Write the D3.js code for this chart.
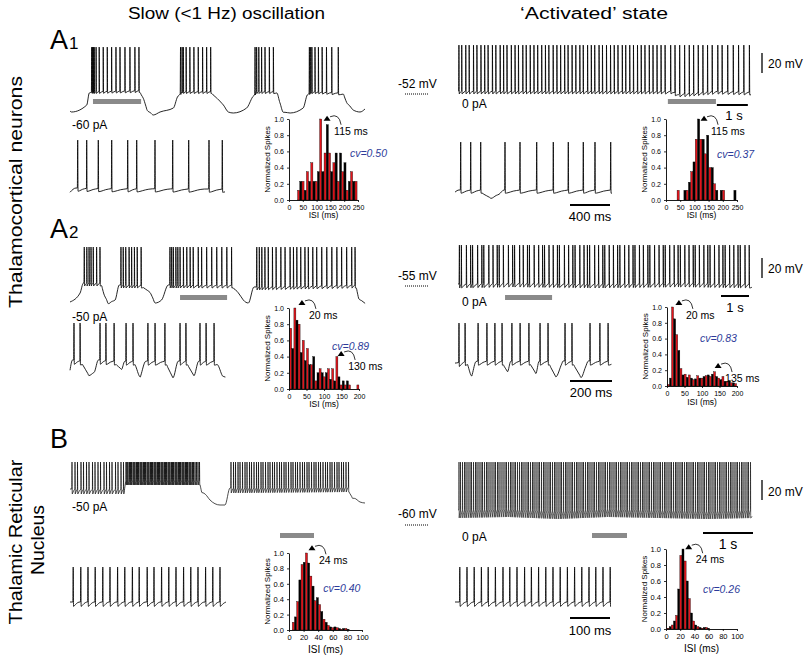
<!DOCTYPE html>
<html><head><meta charset="utf-8">
<script src="https://cdn.jsdelivr.net/npm/d3@7"></script>
<style>
body{margin:0;background:#fff}
svg{display:block}
text{font-family:"Liberation Sans",Arial,Helvetica,sans-serif;fill:#000}
</style></head>
<body><svg id="c" width="805" height="657"></svg>
<script>
// ================= DATA =================
const titles = ["Slow (<1 Hz) oscillation", "\u2018Activated\u2019 state"];
const panelLetters = ["A", "A", "B"];
const panelSubs = ["1", "2", ""];
const sideLabelTC = "Thalamocortical neurons";
const sideLabelTRN = ["Thalamic Reticular", "Nucleus"];
const restLabels = ["-52 mV", "-55 mV", "-60 mV"];
const slowCurrent = ["-60 pA", "-50 pA", "-50 pA"];
const actCurrent = ["0 pA", "0 pA", "0 pA"];
const zoomBarLabels = ["400 ms", "200 ms", "100 ms"];
const zoomBarSec = [0.4, 0.2, 0.1];
const cvSlow = ["cv=0.50", "cv=0.89", "cv=0.40"];
const cvAct = ["cv=0.37", "cv=0.83", "cv=0.26"];
const normTicks = [0, 0.2, 0.4, 0.6, 0.8, 1.0];
const isiTicksA1 = [0, 50, 100, 150, 200, 250];
const isiTicksA2 = [0, 50, 100, 150, 200];
const isiTicksB = [0, 20, 40, 60, 80, 100];

// --- spike times (s) and slow membrane potential breakpoints [s, mV] ---
const a1SlowSpikes = [0.70,0.73,0.75,0.78,0.84,0.94,1.07,1.20,1.34,1.48,1.61,1.77,1.93,2.09,2.22,
  3.56,3.61,3.65,3.74,3.86,3.99,4.13,4.27,4.40,4.53,
  5.96,6.01,6.08,6.17,6.28,6.42,6.55,
  7.71,7.75,7.79,7.89,8.00,8.12,8.26,8.43,8.64];
const a1SlowBase = [[0,-69],[0.05,-70],[0.54,-63],[0.62,-51],[0.75,-49.5],[2.25,-48.5],[2.36,-55],[2.49,-68],[2.68,-73],[2.90,-70],[3.33,-66],[3.46,-55],[3.60,-49.5],[4.56,-49.5],[4.72,-55],[4.94,-63],[5.10,-70],[5.26,-71],[5.69,-66],[5.88,-55],[6.01,-49.5],[6.66,-49.5],[6.76,-60],[6.87,-70],[7.09,-71],[7.51,-66],[7.64,-53],[7.78,-49.5],[8.80,-51],[8.91,-60],[9.12,-68],[9.34,-70],[9.50,-67]];
const a1ActSpikes = [0.03,0.12,0.25,0.36,0.50,0.61,0.74,0.86,0.97,1.11,1.22,1.36,1.47,1.58,1.72,1.84,1.95,2.09,2.20,2.33,2.45,2.57,2.70,2.82,2.93,3.07,3.19,3.31,3.44,3.55,3.68,3.80,3.93,4.04,4.18,4.30,4.41,4.55,4.66,4.79,4.92,5.04,5.16,5.30,5.41,5.54,5.66,5.79,5.91,6.03,6.17,6.29,6.42,6.55,6.68,6.86,7.00,7.15,7.31,7.46,7.60,7.75,7.90,8.05,8.20,8.38,8.52,8.70,8.88,9.05,9.22,9.40];
const a1ActBase = [[0,-49],[6.9,-49],[7.1,-52],[7.6,-51],[8.3,-49],[9.45,-50]];
const a1SlowZoomSpikes = [0.077,0.167,0.283,0.417,0.577,0.667,0.850,1.027,1.187,1.390,1.523];
const a1SlowZoomBase = [[0,-54],[0.06,-50],[0.3,-50.5],[1.55,-51]];
const a1ActZoomSpikes = [0.057,0.157,0.257,0.500,0.650,0.817,0.983,1.133,1.283,1.400,1.557];
const a1ActZoomBase = [[0,-52],[0.04,-50],[0.27,-50],[0.36,-57],[0.44,-54],[0.49,-50],[1.57,-50]];

const a2SlowSpikes = [0.51,0.60,0.68,0.75,0.83,0.95,1.07,
  1.82,1.90,1.99,2.11,2.20,2.30,2.40,2.54,
  3.57,3.63,3.69,3.78,3.85,3.93,4.05,4.17,4.29,4.40,4.58,4.70,4.88,5.06,5.24,5.42,5.60,5.77,
  6.67,6.76,6.85,6.96,7.08,7.23,7.36,7.53,7.68,7.86,7.98,8.10,8.24,8.39,8.51,8.67,8.81,8.99,9.17,9.35,9.53,9.70,9.88,10.06,10.18];
const a2SlowBase = [[0,-71],[0.36,-62],[0.48,-52],[1.13,-52],[1.21,-61],[1.37,-72],[1.61,-69],[1.76,-54],[2.62,-54],[2.86,-61],[3.04,-72],[3.27,-69],[3.51,-54],[5.82,-54],[5.97,-59],[6.19,-69],[6.37,-72],[6.57,-56],[10.22,-54],[10.32,-66],[10.54,-72]];
const a2ActSpikes = [0.05,0.12,0.30,0.45,0.52,0.70,0.85,0.92,1.10,1.25,1.40,1.47,1.62,1.80,1.95,2.02,2.20,2.33,2.48,2.55,2.72,2.88,3.02,3.09,3.25,3.40,3.55,3.62,3.80,3.95,4.10,4.18,4.35,4.50,4.62,4.70,4.88,5.02,5.17,5.24,5.40,5.55,5.70,5.78,5.95,6.10,6.25,6.32,6.48,6.62,6.78,6.85,7.02,7.18,7.33,7.40,7.56,7.72,7.86,7.94,8.10,8.25,8.40,8.47,8.62,8.78,8.92,9.00,9.16,9.32,9.46,9.54,9.70,9.85,10.00,10.08,10.25,10.40];
const a2ActBase = [[0,-53],[2,-52],[5,-53],[8,-52],[10.5,-53]];
const a2SlowZoomSpikes = [0.019,0.048,0.143,0.171,0.210,0.267,0.300,0.371,0.405,0.452,0.524,0.552,0.619,0.648,0.686];
const a2SlowZoomBase = [[0,-62],[0.012,-52],[0.06,-53],[0.09,-66],[0.115,-64],[0.135,-52],[0.22,-53],[0.245,-60],[0.26,-53],[0.31,-53],[0.335,-67],[0.36,-53],[0.46,-53],[0.49,-68],[0.515,-53],[0.56,-53],[0.59,-66],[0.612,-53],[0.70,-53],[0.725,-66],[0.74,-68]];
const a2ActZoomSpikes = [0.019,0.048,0.110,0.152,0.190,0.224,0.271,0.310,0.352,0.405,0.443,0.524,0.557,0.643,0.690,0.729];
const a2ActZoomBase = [[0,-55],[0.06,-53],[0.08,-66],[0.1,-53],[0.23,-53],[0.25,-62],[0.265,-53],[0.36,-53],[0.385,-64],[0.4,-53],[0.45,-53],[0.48,-67],[0.515,-53],[0.565,-53],[0.6,-68],[0.635,-53],[0.745,-53]];

const bSlowSpikes = [0.04,0.10,0.15,0.22,0.27,0.33,0.38,0.45,0.50,0.56,0.61,0.68,0.73,0.79,0.84,0.91,0.96,1.02,1.07,
  1.12,1.14,1.16,1.19,1.21,1.23,1.26,1.28,1.30,1.33,1.35,1.37,1.40,1.42,1.44,1.47,1.49,1.51,1.54,1.56,1.58,1.61,1.63,1.65,1.68,1.70,1.72,1.75,1.77,1.79,1.82,1.84,1.86,1.89,1.91,1.93,1.96,1.98,2.00,2.03,2.05,2.07,2.10,2.12,2.14,2.17,2.19,2.21,2.24,2.26,2.28,2.31,2.33,2.35,2.38,2.40,2.42,2.45,2.47,2.50,2.53,2.56,2.59,
  3.22,3.27,3.31,3.36,3.40,3.45,3.50,3.54,3.59,3.63,3.68,3.73,3.77,3.82,3.86,3.91,3.96,4.00,4.05,4.09,4.14,4.19,4.23,4.28,4.32,4.37,4.42,4.46,4.51,4.55,4.60,4.65,4.69,4.74,4.78,4.83,4.88,4.92,4.97,5.01,5.06,5.11,5.15,5.20,5.24,5.29,5.34,5.38,5.43,5.47,5.52,5.57];
const bSlowBase = [[0,-26],[1.08,-26],[1.12,-17],[2.60,-17],[2.64,-27],[2.80,-37],[3.0,-42],[3.1,-42],[3.2,-25],[5.58,-24],[5.65,-34],[5.80,-39],[5.90,-40]];
const bActSpikes = [0.02,0.05,0.09,0.13,0.16,0.20,0.24,0.27,0.31,0.35,0.38,0.42,0.46,0.49,0.53,0.57,0.60,0.64,0.68,0.72,0.75,0.79,0.82,0.86,0.90,0.94,0.97,1.01,1.05,1.08,1.12,1.15,1.19,1.23,1.27,1.30,1.34,1.38,1.41,1.45,1.49,1.52,1.56,1.60,1.63,1.67,1.71,1.74,1.78,1.82,1.85,1.89,1.93,1.96,2.00,2.04,2.07,2.11,2.15,2.18,2.22,2.26,2.29,2.33,2.37,2.40,2.44,2.48,2.51,2.55,2.59,2.62,2.66,2.70,2.73,2.77,2.81,2.84,2.88,2.92,2.95,2.99,3.03,3.06,3.10,3.14,3.17,3.21,3.25,3.28,3.32,3.36,3.39,3.43,3.47,3.50,3.54,3.58,3.61,3.65,3.69,3.72,3.76,3.80,3.83,3.87,3.91,3.94,3.98,4.02,4.05,4.09,4.13,4.16,4.20,4.24,4.27,4.31,4.35,4.38,4.42,4.46,4.49,4.53,4.57,4.60,4.64,4.68,4.71,4.75,4.79,4.82,4.86,4.90,4.93,4.97,5.01,5.04,5.08,5.12,5.15,5.19,5.23,5.26,5.30,5.34,5.37,5.41,5.45,5.48,5.52,5.56,5.59,5.63,5.67,5.70,5.74,5.78,5.81,5.85];
const bActBase = [[0,-47],[1,-46],[2,-48],[3,-46],[4,-47],[5,-48],[5.9,-47]];
const bSlowZoomSpikes = [0.008,0.027,0.045,0.063,0.082,0.100,0.119,0.137,0.156,0.173,0.193,0.210,0.229,0.247,0.265,0.284,0.302,0.320,0.339,0.357,0.375];
const bSlowZoomBase = [[0,-47],[0.39,-47]];
const bActZoomSpikes = [0.012,0.030,0.048,0.066,0.083,0.101,0.120,0.137,0.155,0.174,0.191,0.209,0.227,0.245,0.263,0.281,0.299,0.317,0.335,0.352,0.370,0.388];
const bActZoomBase = [[0,-47],[0.39,-47]];

// gray bars: [start s, duration s] of the expanded window
const slowWindows = [[0.74, 1.55], [3.93, 1.68], [4.2, 0.68]];
const actWindows = [[6.77, 1.55], [1.68, 1.68], [2.68, 0.70]];

// --- ISI histograms: normalized counts, bins start (ms) + step (ms); even bins red, odd black ---
const a1SlowHist = [0.12,0.23,0.23,0.12,0.35,0.23,0.46,0.23,0.23,0.35,1.0,0.35,0.58,0.93,0.58,0.35,0.46,0.58,0.23,0.58,0.35,0.46,0.12,0.23,0.35,0.23,0.23];
const a1SlowBin = [35, 8];
const a1ActHist = [0.12,0,0,0.12,0.12,0.22,0.35,0.47,0.75,1.0,0.75,0.75,0.57,0.8,0.4,0.4,0.2,0.12,0,0.12,0.12,0,0,0,0,0.12];
const a1ActBin = [43, 8];
const a2SlowHist = [0.75,0.5,1.0,0.85,0.8,0.45,0.6,0.35,0.5,0.3,0.3,0.4,0.1,0.2,0.25,0.2,0.15,0.2,0.25,0.12,0.25,0.1,0.4,0.15,0.05,0.1,0.05,0.1,0.05,0,0,0,0.05];
const a2SlowBin = [5, 6];
const a2ActHist = [0.02,0.1,1.0,0.85,0.65,0.45,0.22,0.14,0.15,0.11,0.14,0.1,0.08,0.09,0.13,0.1,0.1,0.12,0.13,0.14,0.12,0.15,0.18,0.12,0.1,0.08,0.12,0.06,0.05,0.07,0.04,0.04,0.03];
const a2ActBin = [4, 6];
const bSlowHist = [0.1,0.17,0.37,0.65,0.85,0.88,1.0,0.87,0.7,0.57,0.38,0.42,0.33,0.24,0.14,0.1,0.06,0.04,0.03,0.04,0.03,0.02,0.01,0.02,0.02,0.01];
const bSlowBin = [6, 3];
const bActHist = [0.01,0.03,0.05,0.1,0.17,0.5,0.92,1.0,0.85,0.6,0.38,0.2,0.1,0.05,0.03,0.02,0.01,0.02,0.02,0.01];
const bActBin = [3, 3];

// peak annotations [ms, normalized, label]
const a1SlowNotes = [[138, 1.04, "115 ms"]];
const a1ActNotes = [[134, 1.04, "115 ms"]];
const a2SlowNotes = [[37, 1.1, "20 ms"], [149, 0.47, "130 ms"]];
const a2ActNotes = [[34, 1.09, "20 ms"], [146, 0.29, "135 ms"]];
const bSlowNotes = [[31.5, 1.1, "24 ms"]];
const bActNotes = [[32, 1.06, "24 ms"]];
// cv label positions [ms, normalized]
const cvPosSlow = [[221, 0.53], [123, 0.48], [47, 0.49]];
const cvPosAct = [[180, 0.52], [94, 0.56], [52, 0.45]];

// ================= DRAWING =================
const svg = d3.select("#c");
const RED = "#e3141b";
const FONT = '"Liberation Sans",Arial,sans-serif';

function drawTrace(spikes, base, peak, ahp, L) {
  const x = d3.scaleLinear().domain([0, L.tMax]).range([L.x0, L.x0 + L.tMax * L.pps]);
  const y = d3.scaleLinear().domain(L.yDom).range(L.yRng);
  const baseAt = d3.scaleLinear().domain(base.map(d => d[0])).range(base.map(d => d[1])).clamp(true);
  const e = (L.hw || 0.35) / L.pps, maxRec = (L.rec || 12) / L.pps;
  function gapOf(i) {
    const nx = i + 1 < spikes.length ? spikes[i + 1] : Infinity;
    return Math.min(nx - spikes[i], maxRec);
  }
  function off(t) {
    const i = d3.bisectRight(spikes, t) - 1;
    if (i < 0) return 0;
    const g = gapOf(i), dt = t - spikes[i];
    if (dt >= g) return 0;
    let f;
    if (dt < e) f = dt / e;
    else if (dt < 0.2 * g) f = 1 - 0.15 * (dt - e) / Math.max(0.2 * g - e, 1e-9);
    else if (dt < 0.55 * g) f = 0.85 - 0.5 * (dt - 0.2 * g) / (0.35 * g);
    else f = 0.35 * (1 - (dt - 0.55 * g) / (0.45 * g));
    return -ahp * f;
  }
  let ts = [0, L.tMax].concat(base.map(d => d[0]));
  spikes.forEach((s, i) => {
    const g = gapOf(i);
    ts.push(s - e, s + e, s + 0.2 * g, s + 0.55 * g, s + 0.97 * g);
  });
  const spikeSet = new Set(spikes);
  ts = ts.filter(t => t >= 0 && t <= L.tMax && !spikeSet.has(t));
  const pts = ts.map(t => [t, baseAt(t) + off(t)]).concat(spikes.map(s => [s, peak]));
  pts.sort((a, b) => a[0] - b[0]);
  const clean = [];
  pts.forEach(p => { if (!clean.length || p[0] - clean[clean.length - 1][0] > 1e-7) clean.push(p); });
  const line = d3.line().x(d => x(d[0])).y(d => y(d[1])).curve(d3.curveMonotoneX);
  svg.append("path").attr("d", line(clean)).attr("fill", "none")
    .attr("stroke", "#000").attr("stroke-width", L.sw || 0.85).attr("stroke-linejoin", "round");
  return x;
}

function drawHist(vals, bin, notes, cvText, cvPos, ticks, H) {
  const x = d3.scaleLinear().domain([0, H.xMax]).range([H.x0, H.x1]);
  const y = d3.scaleLinear().domain([0, 1]).range([H.y0, H.y1]);
  const g = svg.append("g");
  const bw = x(bin[1]) - x(0);
  g.selectAll("rect").data(vals).join("rect")
    .attr("x", (d, i) => x(bin[0] + i * bin[1]) - bw / 2)
    .attr("y", d => y(d))
    .attr("width", bw * 0.95)
    .attr("height", d => y(0) - y(d))
    .attr("fill", (d, i) => i % 2 === 0 ? RED : "#000")
    .attr("stroke", "#000").attr("stroke-width", 0.35);
  const ya = g.append("g").attr("transform", `translate(${H.x0},0)`)
    .call(d3.axisLeft(y).tickValues(normTicks).tickFormat(d3.format(".1f")).tickSize(2).tickSizeOuter(0).tickPadding(3));
  const xa = g.append("g").attr("transform", `translate(0,${H.y0})`)
    .call(d3.axisBottom(x).tickValues(ticks).tickFormat(d3.format("d")).tickSize(2).tickSizeOuter(0).tickPadding(H.tp || 3));
  [ya, xa].forEach(a => {
    a.selectAll("text").attr("font-size", H.tf || 7).attr("font-family", FONT).attr("fill", "#222");
    a.select(".domain").attr("stroke", "#000").attr("stroke-width", 0.9);
    a.selectAll(".tick line").attr("stroke", "#000").attr("stroke-width", 0.8);
  });
  g.append("text").attr("transform", `translate(${H.x0 - 19},${(H.y0 + H.y1) / 2}) rotate(-90)`)
    .attr("text-anchor", "middle").attr("font-size", 8).attr("fill", "#333").text("Normalized Spikes");
  g.append("text").attr("x", (H.x0 + H.x1) / 2).attr("y", H.y0 + H.isiDy)
    .attr("text-anchor", "middle").attr("font-size", H.isiF || 8.5).attr("fill", "#333").text("ISI (ms)");
  notes.forEach(n => {
    const cx = x(n[0]), cy = y(n[1]);
    g.append("path").attr("d", `M${cx - 3.5},${cy + 5}L${cx + 3.5},${cy + 5}L${cx},${cy}Z`).attr("fill", "#000");
    g.append("path").attr("d", `M${cx + 3},${cy + 1}Q${cx + 12},${cy - 3} ${cx + 14},${cy + 9}`)
      .attr("fill", "none").attr("stroke", "#000").attr("stroke-width", 0.8);
    g.append("text").attr("x", cx + 7).attr("y", cy + 19).attr("font-size", 10.5).text(n[2]);
  });
  g.append("text").attr("x", x(cvPos[0])).attr("y", y(cvPos[1]))
    .attr("font-size", 10.5).attr("font-style", "italic").style("fill", "#2d3b9a").text(cvText);
}

function txt(x, y, s, size, anchor) {
  return svg.append("text").attr("x", x).attr("y", y).attr("font-size", size)
    .attr("text-anchor", anchor || "start").text(s);
}
function hbar(x0, x1, y, w, col) {
  svg.append("line").attr("x1", x0).attr("x2", x1).attr("y1", y).attr("y2", y)
    .attr("stroke", col || "#000").attr("stroke-width", w);
}
function grayBar(xs, win, y) {
  svg.append("rect").attr("x", xs(win[0])).attr("y", y).attr("width", xs(win[0] + win[1]) - xs(win[0]))
    .attr("height", 5).attr("fill", "#8a8a8a");
}
function vbar(x, y0, y1) {
  svg.append("line").attr("x1", x).attr("x2", x).attr("y1", y0).attr("y2", y1)
    .attr("stroke", "#000").attr("stroke-width", 1.3);
}
function dotted(y) {
  svg.append("line").attr("x1", 405).attr("x2", 428).attr("y1", y).attr("y2", y)
    .attr("stroke", "#000").attr("stroke-width", 1).attr("stroke-dasharray", "1,1");
}

// titles
txt(128, 19, titles[0], 16).attr("textLength", 197).attr("lengthAdjust", "spacingAndGlyphs");
txt(520, 19, titles[1], 16).attr("textLength", 148).attr("lengthAdjust", "spacingAndGlyphs");

// side labels
svg.append("text").attr("transform", "translate(22,192) rotate(-90)").attr("text-anchor", "middle")
  .attr("font-size", 18).attr("textLength", 232).attr("lengthAdjust", "spacingAndGlyphs").text(sideLabelTC);
svg.append("text").attr("transform", "translate(22,542) rotate(-90)").attr("text-anchor", "middle")
  .attr("font-size", 18).attr("textLength", 165).attr("lengthAdjust", "spacingAndGlyphs").text(sideLabelTRN[0]);
svg.append("text").attr("transform", "translate(44,540) rotate(-90)").attr("text-anchor", "middle")
  .attr("font-size", 18).attr("textLength", 70).attr("lengthAdjust", "spacingAndGlyphs").text(sideLabelTRN[1]);

// panel letters
[[50, 49], [50, 238], [50, 448]].forEach((p, i) => {
  const t = svg.append("text").attr("x", p[0]).attr("y", p[1]);
  t.append("tspan").attr("font-size", 27).text(panelLetters[i]);
  if (panelSubs[i]) t.append("tspan").attr("font-size", 17).attr("dx", 1).text(panelSubs[i]);
});

// ---------- Row A1 ----------
const yA1 = { yDom: [-52, -32], yRng: [94, 74] };
const xA1s = drawTrace(a1SlowSpikes, a1SlowBase, -5, 2, { x0: 70, pps: 31.05, tMax: 9.5, ...yA1 });
const xA1a = drawTrace(a1ActSpikes, a1ActBase, -3, 3, { x0: 458, pps: 31, tMax: 9.45, ...yA1 });
grayBar(xA1s, slowWindows[0], 99);
grayBar(xA1a, actWindows[0], 99);
txt(72, 129, slowCurrent[0], 12);
txt(462, 108, actCurrent[0], 12);
txt(398, 88, restLabels[0], 12);
dotted(94);
vbar(762, 53, 73); txt(768, 68, "20 mV", 12);
hbar(xA1a(8.35), xA1a(9.35), 105, 2); txt(734, 120, "1 s", 13, "middle");
drawTrace(a1SlowZoomSpikes, a1SlowZoomBase, -5, 3, { x0: 70, pps: 100, tMax: 1.55, yDom: [-50, -5], yRng: [188, 140], rec: 16 });
drawTrace(a1ActZoomSpikes, a1ActZoomBase, -5, 3, { x0: 455, pps: 100, tMax: 1.57, yDom: [-50, -5], yRng: [190, 142], rec: 16 });
hbar(570, 570 + zoomBarSec[0] * 100, 205, 2); txt(590, 221, zoomBarLabels[0], 13, "middle");
drawHist(a1SlowHist, a1SlowBin, a1SlowNotes, cvSlow[0], cvPosSlow[0], isiTicksA1, { x0: 289, x1: 358, xMax: 250, y0: 200, y1: 119, isiDy: 18 });
drawHist(a1ActHist, a1ActBin, a1ActNotes, cvAct[0], cvPosAct[0], isiTicksA1, { x0: 666, x1: 737, xMax: 250, y0: 200, y1: 119, isiDy: 18 });

// ---------- Row A2 ----------
const yA2 = { yDom: [-55, -35], yRng: [286, 266] };
const xA2s = drawTrace(a2SlowSpikes, a2SlowBase, -16, 3, { x0: 70, pps: 28, tMax: 10.54, ...yA2 });
const xA2a = drawTrace(a2ActSpikes, a2ActBase, -14, 4, { x0: 458, pps: 28, tMax: 10.5, ...yA2 });
grayBar(xA2s, slowWindows[1], 295);
grayBar(xA2a, actWindows[1], 295);
txt(72, 321, slowCurrent[1], 12);
txt(462, 306, actCurrent[1], 12);
txt(398, 280, restLabels[1], 12);
dotted(286);
vbar(762, 258, 278); txt(768, 273, "20 mV", 12);
hbar(721, 721 + 28, 296, 2); txt(735, 312, "1 s", 13, "middle");
drawTrace(a2SlowZoomSpikes, a2SlowZoomBase, -16, 4, { x0: 70, pps: 210, tMax: 0.74, yDom: [-52, -16], yRng: [360, 323], rec: 14 });
drawTrace(a2ActZoomSpikes, a2ActZoomBase, -16, 4, { x0: 455, pps: 210, tMax: 0.745, yDom: [-52, -16], yRng: [360, 323], rec: 14 });
hbar(570, 570 + zoomBarSec[1] * 210, 381, 2); txt(591, 397, zoomBarLabels[1], 13, "middle");
drawHist(a2SlowHist, a2SlowBin, a2SlowNotes, cvSlow[1], cvPosSlow[1], isiTicksA2, { x0: 289, x1: 359, xMax: 200, y0: 389, y1: 308, isiDy: 18 });
drawHist(a2ActHist, a2ActBin, a2ActNotes, cvAct[1], cvPosAct[1], isiTicksA2, { x0: 667, x1: 737, xMax: 200, y0: 386, y1: 307, isiDy: 19 });

// ---------- Row B ----------
const yB = { yDom: [-60, -40], yRng: [523, 503] };
const xBs = drawTrace(bSlowSpikes, bSlowBase, 1, 5, { x0: 70, pps: 50, tMax: 5.9, ...yB, rec: 6, sw: 0.7, hw: 0.25 });
const xBa = drawTrace(bActSpikes, bActBase, 1, 8, { x0: 458, pps: 50, tMax: 5.88, ...yB, rec: 6, sw: 0.6, hw: 0.22 });
grayBar(xBs, slowWindows[2], 533);
grayBar(xBa, actWindows[2], 533);
txt(72, 511, slowCurrent[2], 12);
txt(462, 541, actCurrent[2], 12);
txt(398, 518, restLabels[2], 12);
dotted(525);
vbar(762, 480, 500); txt(768, 496, "20 mV", 12);
hbar(703, 753, 533, 2); txt(728, 549, "1 s", 14, "middle");
drawTrace(bSlowZoomSpikes, bSlowZoomBase, 1, 6, { x0: 70, pps: 400, tMax: 0.39, yDom: [-47, 1], yRng: [602, 567], rec: 6 });
drawTrace(bActZoomSpikes, bActZoomBase, 1, 6, { x0: 455, pps: 400, tMax: 0.39, yDom: [-47, 1], yRng: [602, 567], rec: 6 });
hbar(570, 570 + zoomBarSec[2] * 400, 618, 2); txt(590, 635, zoomBarLabels[2], 13, "middle");
drawHist(bSlowHist, bSlowBin, bSlowNotes, cvSlow[2], cvPosSlow[2], isiTicksB, { x0: 289, x1: 362, xMax: 100, y0: 630, y1: 553, isiDy: 23, isiF: 10, tf: 7.5 });
drawHist(bActHist, bActBin, bActNotes, cvAct[2], cvPosAct[2], isiTicksB, { x0: 666, x1: 737, xMax: 100, y0: 629, y1: 549, isiDy: 23, isiF: 10, tf: 7.5 });
</script></body></html>
